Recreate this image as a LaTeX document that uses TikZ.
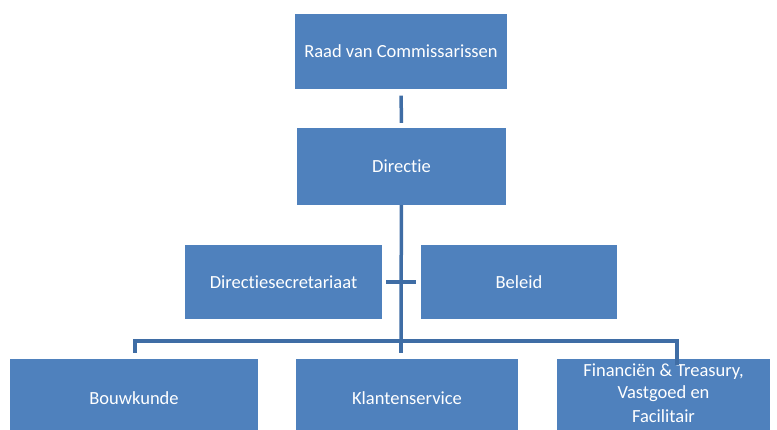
\documentclass[tikz,border=0pt]{standalone}
\usepackage{fontspec}
\setmainfont{Carlito}[Ligatures=NoCommon]
\definecolor{orgblue}{HTML}{4F81BD}
\definecolor{linkblue}{HTML}{3F6DA5}
\tikzset{
  unit/.style={fill=orgblue, text=white, align=center, font=\fontsize{18.5}{22}\selectfont, inner sep=2pt},
  link/.style={draw=linkblue, line width=3.5pt}
}
\begin{document}
\begin{tikzpicture}[x=1pt,y=-1pt]
  \useasboundingbox (0,0) rectangle (777,429);
  \clip (0,0) rectangle (777,429);
  \node[unit, minimum width=212pt, minimum height=75pt] (raad) at (401,51) {Raad van Commissarissen};
  \node[unit, minimum width=209pt, minimum height=77pt] (directie) at (401.5,166.5) {Directie};
  \node[unit, minimum width=197pt, minimum height=74pt] (secretariaat) at (283.5,282) {Directiesecretariaat};
  \node[unit, minimum width=196pt, minimum height=74pt] (beleid) at (519,282) {Beleid};
  \node[unit, minimum width=248pt, minimum height=78pt] (bouwkunde) at (134,398) {Bouwkunde};
  \node[unit, minimum width=222pt, minimum height=78pt] (klanten) at (407,398) {Klantenservice};
  \node[unit, minimum width=213pt, minimum height=78pt, text depth=10pt] (financien) at (663.5,398) {Financiën \& Treasury,\\Vastgoed en\\[2pt]Facilitair};

  \coordinate (bus) at (401,341);
  \draw[link, shorten <=7pt, shorten >=5pt] (raad) -- (directie);
  \draw[link] (directie) -- (bus);
  \draw[link, shorten <=4pt, shorten >=5pt] (secretariaat.east) -- (beleid.west);
  \draw[link] (bouwkunde.north -| 135,0) ++(0,-6) |- (bus) -| ([yshift=-6pt]financien.north -| 677,0);
  \draw[link, shorten >=6pt] (bus) -- (klanten.north -| bus);
\end{tikzpicture}
\end{document}
